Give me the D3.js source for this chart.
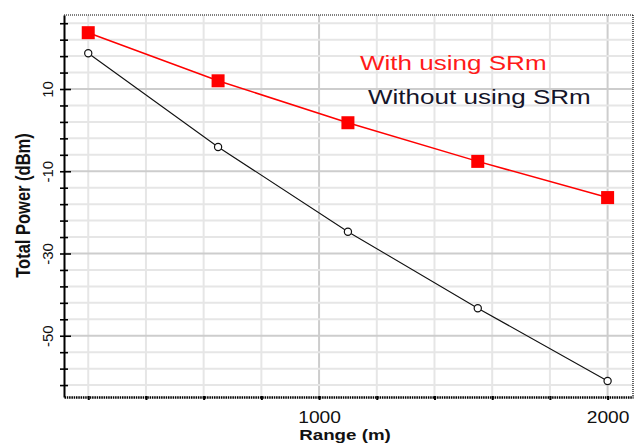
<!DOCTYPE html>
<html>
<head>
<meta charset="utf-8">
<script src="https://cdn.jsdelivr.net/npm/d3@7"></script>
<style>
  body { margin: 0; background: #fff; }
  svg { display: block; }
  text { font-family: "Liberation Sans", Arial, sans-serif; }
</style>
</head>
<body>
<svg id="chart" width="636" height="444"></svg>
<script>
// Total power versus range, with and without SRm
const ranges = [200, 650, 1100, 1550, 2000];
const withSRm = [23.7, 12.0, 1.8, -7.6, -16.4];
const withoutSRm = [18.7, -4.1, -24.7, -43.3, -61.0];

const xTicks = [200, 400, 600, 800, 1000, 1200, 1400, 1600, 1800, 2000];
const xTickLabels = [1000, 2000];
const yTicks = d3.range(-62, 27, 4);
const yTickLabels = [10, -10, -30, -50];
const legendLabels = ["With using SRm", "Without using SRm"];
const xTitle = "Range (m)";
const yTitle = "Total Power (dBm)";

const svg = d3.select("#chart");
const plot = { left: 64, right: 633, top: 15, bottom: 397 };

const x = d3.scaleLinear().domain([116, 2088]).range([plot.left, plot.right]);
const y = d3.scaleLinear().domain([-64.9, 28]).range([plot.bottom, plot.top]);

// grid
const grid = svg.append("g");
grid.selectAll("line.gx").data(xTicks).join("line")
  .attr("x1", d => x(d)).attr("x2", d => x(d))
  .attr("y1", plot.top).attr("y2", plot.bottom)
  .attr("stroke", d => xTickLabels.includes(d) ? "#cdcdcd" : "#e6e6e6")
  .attr("stroke-width", 2);
grid.selectAll("line.gy").data(yTicks).join("line")
  .attr("x1", plot.left).attr("x2", plot.right)
  .attr("y1", d => y(d)).attr("y2", d => y(d))
  .attr("stroke", d => yTickLabels.includes(d) ? "#cdcdcd" : "#e6e6e6")
  .attr("stroke-width", 2);

// dotted frame on top and right
svg.append("line")
  .attr("x1", plot.left).attr("x2", plot.right)
  .attr("y1", plot.top).attr("y2", plot.top)
  .attr("stroke", "#000").attr("stroke-width", 1.2).attr("stroke-dasharray", "1,1");
svg.append("line")
  .attr("x1", plot.right).attr("x2", plot.right)
  .attr("y1", plot.top).attr("y2", plot.bottom)
  .attr("stroke", "#000").attr("stroke-width", 1.2).attr("stroke-dasharray", "1,1");

// x axis
const xAxis = svg.append("g")
  .attr("transform", `translate(0,${plot.bottom})`)
  .call(d3.axisBottom(x).tickValues(xTicks).tickSize(3).tickSizeOuter(0)
    .tickFormat(d => xTickLabels.includes(d) ? d : ""));
xAxis.select(".domain")
  .attr("stroke", "#000").attr("stroke-width", 2.4).attr("stroke-dasharray", "1.5,0.8");
xAxis.selectAll(".tick line").attr("stroke", "#000").attr("stroke-width", 2)
  .attr("y1", -1);
xAxis.selectAll(".tick text")
  .attr("y", 0).attr("dy", 0)
  .attr("transform", "translate(0,26) scale(1.2,1)")
  .attr("font-size", 16).attr("fill", "#111");

// y axis
const yAxis = svg.append("g")
  .attr("transform", `translate(${plot.left},0)`)
  .call(d3.axisLeft(y).tickValues(yTicks).tickSize(4).tickSizeOuter(0)
    .tickFormat(d => yTickLabels.includes(d) ? d : ""));
yAxis.select(".domain").attr("stroke", "#000").attr("stroke-width", 2);
yAxis.selectAll(".tick line")
  .attr("stroke", "#000").attr("stroke-width", 1.6)
  .attr("x1", -4).attr("x2", d => yTickLabels.includes(d) ? 7 : 4);
yAxis.selectAll(".tick text")
  .attr("x", 0).attr("dy", 0)
  .attr("text-anchor", "middle")
  .attr("transform", "translate(-11.5,0) rotate(-90)")
  .attr("font-size", 15).attr("fill", "#111");

// axis titles
svg.append("text")
  .attr("transform", "translate(345,440) scale(1.25,1)")
  .attr("text-anchor", "middle").attr("font-size", 15).attr("font-weight", "bold")
  .attr("fill", "#111").text(xTitle);
svg.append("text")
  .attr("transform", "translate(30,205.5) scale(1.2,1) rotate(-90)")
  .attr("text-anchor", "middle").attr("font-size", 16.5).attr("font-weight", "bold")
  .attr("fill", "#111").text(yTitle);

// series
const line = d3.line().x(d => x(d[0])).y(d => y(d[1]));
const redPts = ranges.map((r, i) => [r, withSRm[i]]);
const blackPts = ranges.map((r, i) => [r, withoutSRm[i]]);

svg.append("path").datum(blackPts).attr("d", line)
  .attr("fill", "none").attr("stroke", "#111").attr("stroke-width", 1.1);
svg.append("path").datum(redPts).attr("d", line)
  .attr("fill", "none").attr("stroke", "#ff0000").attr("stroke-width", 1.5);

svg.selectAll("circle.pt").data(blackPts).join("circle")
  .attr("cx", d => x(d[0])).attr("cy", d => y(d[1])).attr("r", 3.6)
  .attr("fill", "#fff").attr("stroke", "#111").attr("stroke-width", 1.2);
svg.selectAll("rect.pt").data(redPts).join("rect")
  .attr("x", d => x(d[0]) - 6.5).attr("y", d => y(d[1]) - 6.5)
  .attr("width", 13).attr("height", 13)
  .attr("fill", "#ff0000");

// legend
svg.append("text")
  .attr("transform", "translate(360,70) scale(1.24,1)")
  .attr("font-size", 21).attr("fill", "#ff1a1a").text(legendLabels[0]);
svg.append("text")
  .attr("transform", "translate(368,104) scale(1.24,1)")
  .attr("font-size", 21).attr("fill", "#15152a").text(legendLabels[1]);
</script>
</body>
</html>
